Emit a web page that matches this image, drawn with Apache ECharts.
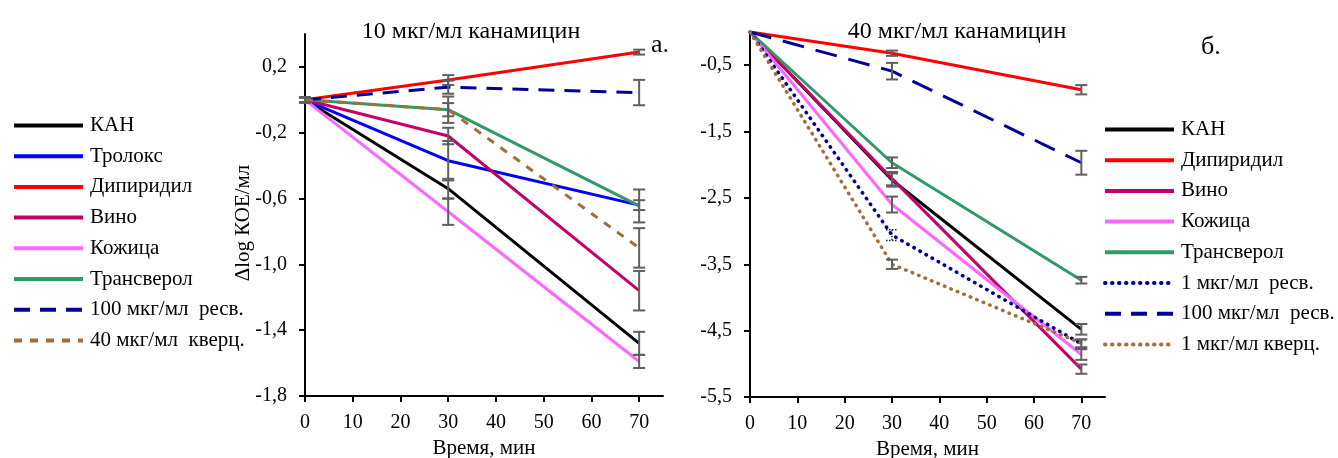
<!DOCTYPE html>
<html><head><meta charset="utf-8">
<script src="https://cdn.jsdelivr.net/npm/echarts@6/dist/echarts.min.js"></script>
<style>html,body{margin:0;padding:0;background:#fff}#c{width:1338px;height:458px}</style>
</head><body><div id="c"></div>
<script>
// Time points (min)
const times = [0, 30, 70];
const xTicks = [0, 10, 20, 30, 40, 50, 60, 70];
const yTicksA = [-1.8, -1.4, -1.0, -0.6, -0.2, 0.2];
const yTicksB = [-5.5, -4.5, -3.5, -2.5, -1.5, -0.5];

// Panel а: 10 мкг/мл канамицин
const a_kan = [0, -0.54, -1.48],     a_kanErr = [0.015, 0.06, 0.07];
const a_trolox = [0, -0.37, -0.64],  a_troloxErr = [0.015, 0.12, 0.03];
const a_dip = [0, 0.12, 0.29],       a_dipErr = [0.015, 0.03, 0.015];
const a_wine = [0, -0.22, -1.16],    a_wineErr = [0.015, 0.05, 0.12];
const a_skin = [0, -0.68, -1.59],    a_skinErr = [0.015, 0.08, 0.04];
const a_trans = [0, -0.06, -0.645],  a_transErr = [0.015, 0.04, 0.1];
const a_res100 = [0, 0.077, 0.044],  a_res100Err = [0.015, 0.04, 0.077];
const a_querc40 = [0, -0.06, -0.90], a_querc40Err = [0.015, 0.08, 0.12];

// Panel б: 40 мкг/мл канамицин
const b_kan = [0, -2.23, -4.48],     b_kanErr = [0, 0.1, 0.08];
const b_dip = [0, -0.32, -0.87],     b_dipErr = [0, 0.04, 0.07];
const b_wine = [0, -2.21, -5.08],    b_wineErr = [0, 0.1, 0.07];
const b_skin = [0, -2.6, -4.86],     b_skinErr = [0, 0.12, 0.08];
const b_trans = [0, -1.97, -3.74],   b_transErr = [0, 0.08, 0.05];
const b_res1 = [0, -3.06, -4.70],    b_res1Err = [0, 0.08, 0.06];
const b_res100 = [0, -0.59, -1.97],  b_res100Err = [0, 0.125, 0.18];
const b_querc1 = [0, -3.50, -4.69],  b_querc1Err = [0, 0.07, 0.06];

const N = {
  kan: 'КАН', trolox: 'Тролокс', dip: 'Дипиридил', wine: 'Вино', skin: 'Кожица',
  trans: 'Трансверол', res100: '100 мкг/мл  ресв.', querc40: '40 мкг/мл  кверц.',
  res1: '1 мкг/мл  ресв.', querc1: '1 мкг/мл кверц.'
};
const C = {
  kan: '#000000', trolox: '#0000FF', dip: '#FF0000', wine: '#C4006A', skin: '#FF66FF',
  trans: '#339966', res100: '#000099', querc40: '#A0703C', res1: '#000099', querc1: '#A0703C'
};
const FONT = "'Liberation Serif', 'Times New Roman', serif";

function pts(vals) { return times.map((t, i) => [t, vals[i]]); }
function line(name, key, vals, gi, dash) {
  const dotted = dash && dash[0] < 2;
  return {
    type: 'line', name: name, xAxisIndex: gi, yAxisIndex: gi, data: pts(vals),
    symbol: 'none', showSymbol: false, z: 2,
    lineStyle: { color: C[key], width: dotted ? 3.5 : 3, type: dash || 'solid', cap: dotted ? 'round' : 'butt' },
    itemStyle: { color: C[key] }
  };
}
function errs(vals, e, dotted) { return times.map((t, i) => [t, vals[i], e[i], dotted ? 1 : 0]); }
function errSeries(gi, data) {
  return {
    type: 'custom', xAxisIndex: gi, yAxisIndex: gi, data: data, z: 5, clip: false, silent: true,
    renderItem: function (params, api) {
      const x = api.value(0), y = api.value(1), e = api.value(2), d = api.value(3);
      if (!e) return;
      const t = api.coord([x, y + e]), b = api.coord([x, y - e]);
      const w = 6;
      const st = d ? { stroke: '#222', lineWidth: 1.5, lineDash: [1.5, 1.5] } : { stroke: '#5f5f5f', lineWidth: 2 };
      return { type: 'group', children: [
        { type: 'line', shape: { x1: t[0], y1: t[1], x2: b[0], y2: b[1] }, style: st },
        { type: 'line', shape: { x1: t[0] - w, y1: t[1], x2: t[0] + w, y2: t[1] }, style: st },
        { type: 'line', shape: { x1: b[0] - w, y1: b[1], x2: b[0] + w, y2: b[1] }, style: st }
      ]};
    }
  };
}
const commaFmt = v => v.toFixed(1).replace('.', ',');

function xAxis(gi) {
  return {
    type: 'value', gridIndex: gi, min: 0, max: 75, interval: 10,
    name: 'Время, мин', nameLocation: 'middle', nameGap: 42,
    nameTextStyle: { fontFamily: FONT, fontSize: 21, color: '#000' },
    axisLine: { onZero: false, lineStyle: { color: '#000', width: 2 } },
    axisTick: { show: true, length: 6, lineStyle: { color: '#000', width: 2 }, customValues: xTicks },
    axisLabel: { fontFamily: FONT, fontSize: 20, color: '#000', margin: 17, customValues: xTicks },
    splitLine: { show: false }
  };
}
function yAxis(gi, min, max, interval, ticks) {
  return {
    type: 'value', gridIndex: gi, min: min, max: max, interval: interval,
    axisLine: { show: true, onZero: false, lineStyle: { color: '#000', width: 2 } },
    axisTick: { show: true, length: 6, lineStyle: { color: '#000', width: 2 }, customValues: ticks },
    axisLabel: { fontFamily: FONT, fontSize: 20, color: '#000', margin: 18, customValues: ticks, formatter: commaFmt },
    splitLine: { show: false }
  };
}

const DASH_A = [16, 10], DASH_A2 = [8, 8], DASH_B = [22, 12], DOT = [0.5, 6.5];

const legendCommon = {
  orient: 'vertical', itemWidth: 69, itemHeight: 14, itemGap: 9.7, padding: 0,
  textStyle: { fontFamily: FONT, fontSize: 21, color: '#000', lineHeight: 20, padding: [0, 0, 0, 2] },
  lineStyle: { width: 4 },
  itemStyle: { opacity: 0 }
};
const titleStyle = { fontFamily: FONT, fontSize: 24, fontWeight: 'normal', color: '#000' };

const option = {
  animation: false,
  backgroundColor: '#fff',
  title: [
    { text: '10 мкг/мл канамицин', left: 466, top: 15, textAlign: 'center', textStyle: titleStyle },
    { text: '40 мкг/мл канамицин', left: 952, top: 15, textAlign: 'center', textStyle: titleStyle },
    { text: 'а.', left: 646, top: 27, textStyle: { fontFamily: FONT, fontSize: 26, fontWeight: 'normal', color: '#000' } },
    { text: 'б.', left: 1196, top: 29, textStyle: { fontFamily: FONT, fontSize: 26, fontWeight: 'normal', color: '#000' } }
  ],
  graphic: [
    { type: 'text', x: 243, y: 223, rotation: Math.PI / 2,
      style: { text: 'Δlog КОЕ/мл', font: "21px 'Liberation Serif', serif", fill: '#000', align: 'center', verticalAlign: 'middle' } }
  ],
  legend: [
    Object.assign({}, legendCommon, { left: 12, top: 115,
      data: [N.kan, N.trolox, N.dip, N.wine, N.skin, N.trans, N.res100, N.querc40] }),
    Object.assign({}, legendCommon, { left: 1103, top: 119,
      data: [N.kan, N.dip, N.wine, N.skin, N.trans, N.res1, N.res100, N.querc1] })
  ],
  grid: [
    { left: 305, top: 34, width: 358, height: 362, outerBoundsMode: 'none', containLabel: false },
    { left: 750, top: 32, width: 355, height: 365, outerBoundsMode: 'none', containLabel: false }
  ],
  xAxis: [xAxis(0), xAxis(1)],
  yAxis: [yAxis(0, -1.8, 0.4, 0.4, yTicksA), yAxis(1, -5.5, 0, 1, yTicksB)],
  series: [
    line(N.kan, 'kan', a_kan, 0),
    line(N.trolox, 'trolox', a_trolox, 0),
    line(N.dip, 'dip', a_dip, 0),
    line(N.wine, 'wine', a_wine, 0),
    line(N.skin, 'skin', a_skin, 0),
    line(N.trans, 'trans', a_trans, 0),
    line(N.res100, 'res100', a_res100, 0, DASH_A),
    line(N.querc40, 'querc40', a_querc40, 0, DASH_A2),
    errSeries(0, [].concat(
      errs(a_kan, a_kanErr), errs(a_trolox, a_troloxErr), errs(a_dip, a_dipErr),
      errs(a_wine, a_wineErr), errs(a_skin, a_skinErr), errs(a_trans, a_transErr),
      errs(a_res100, a_res100Err), errs(a_querc40, a_querc40Err))),
    line(N.kan, 'kan', b_kan, 1),
    line(N.dip, 'dip', b_dip, 1),
    line(N.wine, 'wine', b_wine, 1),
    line(N.skin, 'skin', b_skin, 1),
    line(N.trans, 'trans', b_trans, 1),
    line(N.res1, 'res1', b_res1, 1, DOT),
    line(N.res100, 'res100', b_res100, 1, DASH_B),
    line(N.querc1, 'querc1', b_querc1, 1, DOT),
    errSeries(1, [].concat(
      errs(b_kan, b_kanErr), errs(b_dip, b_dipErr), errs(b_wine, b_wineErr),
      errs(b_skin, b_skinErr), errs(b_trans, b_transErr), errs(b_res1, b_res1Err, true),
      errs(b_res100, b_res100Err), errs(b_querc1, b_querc1Err)))
  ]
};
const chart = echarts.init(document.getElementById('c'), null, { renderer: 'canvas' });
chart.setOption(option);
</script>
</body></html>
